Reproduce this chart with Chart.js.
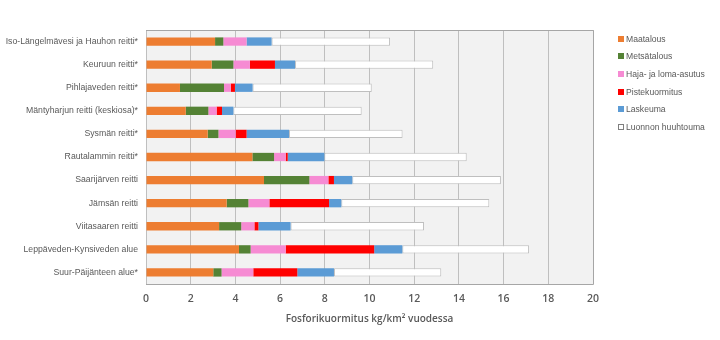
<!DOCTYPE html>
<html>
<head>
<meta charset="utf-8">
<script src="https://cdn.jsdelivr.net/npm/chart.js@4"></script>
<style>
  html, body { margin: 0; padding: 0; background: #fff; }
  #wrap { position: relative; width: 720px; height: 340px; }
  #legend { position: absolute; left: 618px; top: 30px; margin: 0; padding: 0; list-style: none;
            font-family: "Liberation Sans", sans-serif; font-size: 8.6px; color: #595959; }
  #legend li { height: 17.6px; display: flex; align-items: center; white-space: nowrap; }
  #legend .sw { width: 6px; height: 6px; margin-right: 2px; box-sizing: border-box; }
</style>
</head>
<body>
<div id="wrap">
  <canvas id="chart" width="720" height="340"></canvas>
  <ul id="legend"></ul>
</div>
<script>
// --- Datos ---
const reitit = [
  'Iso-Längelmävesi ja Hauhon reitti*',
  'Keuruun reitti*',
  'Pihlajaveden reitti*',
  'Mäntyharjun reitti (keskiosa)*',
  'Sysmän reitti*',
  'Rautalammin reitti*',
  'Saarijärven reitti',
  'Jämsän reitti',
  'Viitasaaren reitti',
  'Leppäveden-Kynsiveden alue',
  'Suur-Päijänteen alue*'
];
const maatalous   = [3.09, 2.94, 1.52, 1.78, 2.76, 4.76, 5.28, 3.61, 3.27, 4.16, 3.01];
const metsatalous = [0.37, 0.97, 1.97, 1.01, 0.48, 0.97, 2.03, 0.97, 0.99, 0.52, 0.37];
const hajaLoma    = [1.04, 0.74, 0.30, 0.37, 0.77, 0.52, 0.85, 0.94, 0.59, 1.57, 1.42];
const pistekuorm  = [0.00, 1.12, 0.19, 0.24, 0.49, 0.09, 0.25, 2.67, 0.18, 3.96, 1.97];
const laskeuma    = [1.12, 0.90, 0.79, 0.51, 1.90, 1.64, 0.82, 0.55, 1.44, 1.26, 1.64];
const luonnon     = [5.30, 6.18, 5.33, 5.74, 5.08, 6.37, 6.65, 6.62, 5.97, 5.67, 4.80];
const xTicks = [0, 2, 4, 6, 8, 10, 12, 14, 16, 18, 20];

const sarjat = [
  { label: 'Maatalous', data: maatalous, color: '#ED7D31' },
  { label: 'Metsätalous', data: metsatalous, color: '#548235' },
  { label: 'Haja- ja loma-asutus', data: hajaLoma, color: '#F68BD3' },
  { label: 'Pistekuormitus', data: pistekuorm, color: '#FF0000' },
  { label: 'Laskeuma', data: laskeuma, color: '#5B9BD5' },
  { label: 'Luonnon huuhtouma', data: luonnon, color: '#FFFFFF', border: '#BFBFBF' }
];

// --- Fondo del área de trazado ---
const plotBg = {
  id: 'plotBg',
  beforeDraw(chart) {
    const { ctx, chartArea: a } = chart;
    ctx.save();
    ctx.fillStyle = '#F2F2F2';
    ctx.fillRect(a.left, a.top, a.right - a.left, a.bottom - a.top);
    ctx.restore();
  },
  afterDatasetsDraw(chart) {
    const { ctx, chartArea: a } = chart;
    ctx.save();
    ctx.strokeStyle = '#A6A6A6';
    ctx.lineWidth = 1;
    ctx.beginPath();
    ctx.moveTo(a.left, a.top + 0.5);
    ctx.lineTo(a.right + 0.5, a.top + 0.5);
    ctx.lineTo(a.right + 0.5, a.bottom + 0.5);
    ctx.lineTo(a.left, a.bottom + 0.5);
    ctx.stroke();
    ctx.restore();
  }
};

new Chart(document.getElementById('chart'), {
  type: 'bar',
  data: {
    labels: reitit,
    datasets: sarjat.map(s => ({
      label: s.label,
      data: s.data,
      backgroundColor: s.color,
      borderColor: s.border || s.color,
      borderWidth: s.border ? 1 : 0,
      borderSkipped: false,
      barPercentage: 0.36,
      categoryPercentage: 1
    }))
  },
  options: {
    indexAxis: 'y',
    responsive: false,
    animation: false,
    layout: { padding: { top: 30, right: 127, left: 0, bottom: 15 } },
    plugins: { legend: { display: false }, tooltip: { enabled: false } },
    scales: {
      x: {
        stacked: true,
        min: 0, max: 20,
        afterBuildTicks: scale => { scale.ticks = xTicks.map(v => ({ value: v })); },
        afterFit: scale => { scale.height = 41; },
        grid: { color: '#BFBFBF', drawTicks: false },
        border: { display: false },
        ticks: { padding: 9, color: '#595959', font: { family: 'Open Sans', size: 10.5, weight: '600' } },
        title: {
          display: true,
          text: 'Fosforikuormitus kg/km² vuodessa',
          color: '#595959',
          padding: { top: 4, bottom: 0 },
          font: { family: 'Open Sans', size: 10, weight: '600' }
        }
      },
      y: {
        stacked: true,
        afterFit: scale => { scale.width = 146; },
        grid: { display: false, drawTicks: false },
        border: { display: false },
        ticks: { padding: 8, color: '#595959', font: { family: 'Liberation Sans', size: 8.7 } }
      }
    }
  },
  plugins: [plotBg]
});

// --- Leyenda ---
document.getElementById('legend').innerHTML = sarjat.map(s => `
  <li><span class="sw" style="background:${s.color};${s.border ? 'border:1px solid #7F7F7F;' : ''}"></span>${s.label}</li>
`).join('');
</script>
</body>
</html>
